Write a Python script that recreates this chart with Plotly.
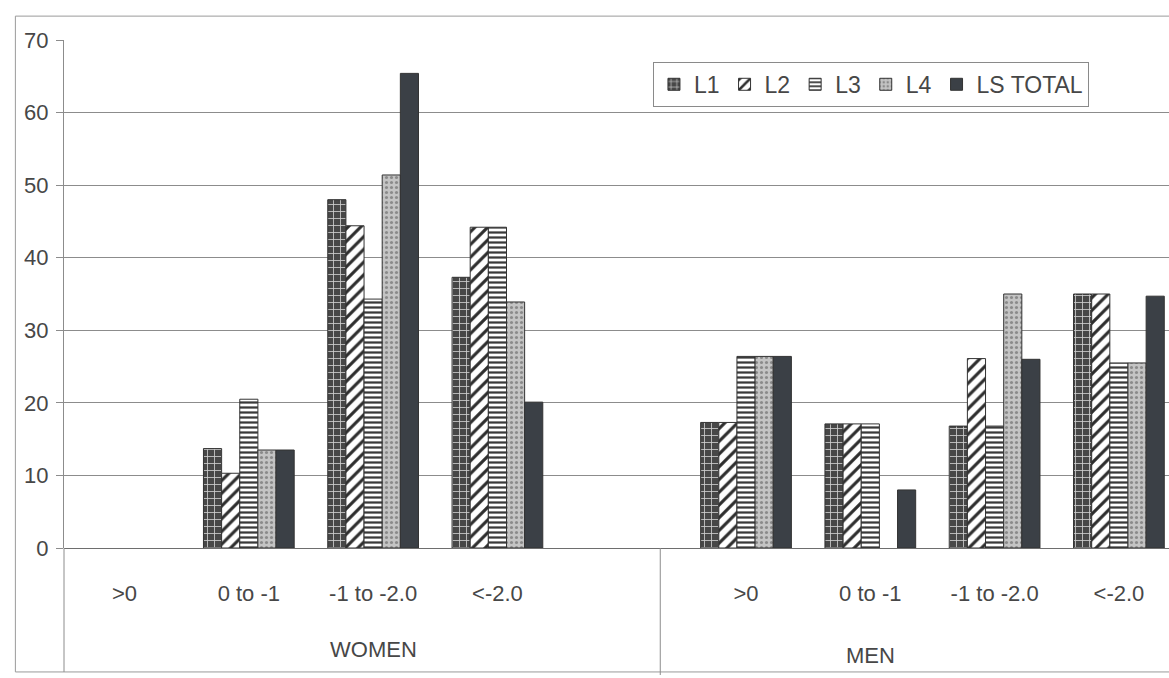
import plotly.graph_objects as go

# ---- data ----
categories = [">0", "0 to -1", "-1 to -2.0", "<-2.0"]
groups = ["WOMEN", "MEN"]
series_names = ["L1", "L2", "L3", "L4", "LS TOTAL"]

L1 = [0, 13.7, 48.0, 37.3, 17.3, 17.1, 16.8, 35.0]
L2 = [0, 10.3, 44.4, 44.2, 17.3, 17.1, 26.1, 35.0]
L3 = [0, 20.5, 34.3, 44.2, 26.4, 17.1, 16.8, 25.5]
L4 = [0, 13.5, 51.4, 33.9, 26.4, 0, 35.0, 25.5]
LS_TOTAL = [0, 13.5, 65.4, 20.1, 26.4, 8.0, 26.0, 34.7]

y_ticks = [0, 10, 20, 30, 40, 50, 60, 70]

# ---- layout helpers ----
# women categories at 0..3, an empty slot at 4, men categories at 5..8
positions = list(range(len(categories))) + [len(categories) + 1 + i for i in range(len(categories))]
ticktext = categories + categories

FONT = "Liberation Sans, Arial, sans-serif"
TXT = "#474747"
LINE = "#8c8c8c"

styles = [
    dict(shape="+", bgcolor="#474747", fgcolor="#d0d0d0", size=7, solidity=0.22),
    dict(shape="/", bgcolor="#ffffff", fgcolor="#2e2e2e", size=9, solidity=0.35),
    dict(shape="-", bgcolor="#ffffff", fgcolor="#3a3a3a", size=5, solidity=0.45),
    dict(shape=".", bgcolor="#c4c4c4", fgcolor="#8a8a8a", size=5, solidity=0.3),
    None,
]

fig = go.Figure()
for name, vals, st in zip(series_names, [L1, L2, L3, L4, LS_TOTAL], styles):
    marker = dict(line=dict(color="#333333", width=1))
    if st is None:
        marker["color"] = "#3b4046"
    else:
        marker["color"] = st["bgcolor"]
        marker["pattern"] = dict(shape=st["shape"], bgcolor=st["bgcolor"], fgcolor=st["fgcolor"],
                                 size=st["size"], solidity=st["solidity"], fillmode="replace")
    # zero-height bars are not drawn (as in the reference)
    shown = [v if v != 0 else None for v in vals]
    fig.add_trace(go.Bar(x=positions, y=shown, name=name, marker=marker))

fig.update_layout(
    width=1169, height=678,
    margin=dict(l=64, r=0, t=40, b=130),
    paper_bgcolor="white", plot_bgcolor="white",
    barmode="group", bargap=0.27, bargroupgap=0,
    font=dict(family=FONT, color=TXT, size=22),
    showlegend=True,
    legend=dict(orientation="h", x=0.533, y=0.957, xanchor="left", yanchor="top",
                bordercolor="#8a8a8a", borderwidth=1, bgcolor="white",
                font=dict(size=23, family=FONT, color=TXT),
                itemwidth=30, tracegroupgap=0, traceorder="normal"),
)

fig.update_xaxes(
    range=[-0.487, 8.403], tickmode="array", tickvals=positions, ticktext=ticktext,
    showgrid=False, zeroline=False, showline=False, ticks="",
    tickfont=dict(size=22, family=FONT, color=TXT), ticklabelstandoff=30,
)
fig.update_yaxes(
    range=[0, 70], tickmode="array", tickvals=y_ticks,
    showgrid=True, gridcolor=LINE, gridwidth=1,
    zeroline=True, zerolinecolor="#6e6e6e", zerolinewidth=1,
    showline=True, linecolor=LINE, linewidth=1,
    ticks="outside", ticklen=7, tickcolor=LINE,
    tickfont=dict(size=22, family=FONT, color=TXT), ticklabelstandoff=3,
)

# left axis line continuing through the category-label area
fig.add_shape(type="line", xref="paper", yref="paper", x0=0, x1=0, y0=0, y1=-0.244,
              line=dict(color=LINE, width=1))
# divider between the WOMEN and MEN groups
fig.add_shape(type="line", xref="x", yref="paper", x0=4.31, x1=4.31, y0=0, y1=-0.25,
              line=dict(color=LINE, width=1))
# outer chart border
fig.add_shape(type="rect", xref="paper", yref="paper", x0=-0.044, x1=1.01, y0=1.047, y1=-0.244,
              line=dict(color="#9a9a9a", width=1), layer="below")

# group labels
for gname, gx, gy in zip(groups, [2.0, 6.0], [-0.2, -0.212]):
    fig.add_annotation(x=gx, xref="x", y=gy, yref="paper", text=gname, showarrow=False,
                       font=dict(size=22, family=FONT, color=TXT), yanchor="middle")

fig.write_html("out.html")
